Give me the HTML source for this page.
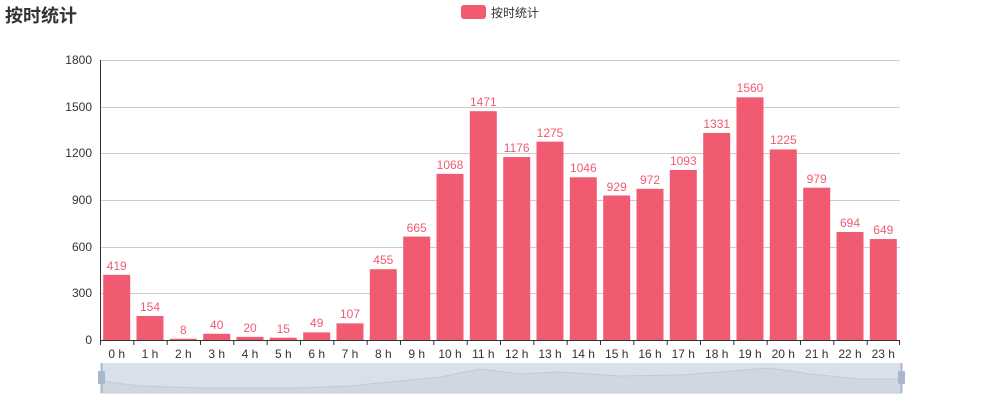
<!DOCTYPE html>
<html><head><meta charset="utf-8"><style>body{margin:0;background:#fff}svg{display:block}</style></head><body>
<svg width="1000" height="400" xmlns="http://www.w3.org/2000/svg" font-family="'Liberation Sans','Noto Sans CJK SC',sans-serif">
<text x="5" y="22" font-size="18" font-weight="bold" fill="#333">按时统计</text>
<rect x="461" y="5" width="25" height="14" rx="3" fill="#f05b72"/>
<text x="491" y="17" font-size="12" fill="#333">按时统计</text>
<g stroke="#ccc" stroke-width="1">
<line x1="100" y1="60.5" x2="900" y2="60.5"/><line x1="100" y1="107.5" x2="900" y2="107.5"/><line x1="100" y1="153.5" x2="900" y2="153.5"/><line x1="100" y1="200.5" x2="900" y2="200.5"/><line x1="100" y1="247.5" x2="900" y2="247.5"/><line x1="100" y1="293.5" x2="900" y2="293.5"/>
</g>
<g font-size="12" fill="#333" text-anchor="end">
<text x="92" y="64">1800</text><text x="92" y="111">1500</text><text x="92" y="157">1200</text><text x="92" y="204">900</text><text x="92" y="251">600</text><text x="92" y="297">300</text><text x="92" y="344">0</text>
</g>
<g transform="translate(0,340) scale(1,-0.15556)" fill="#f05b72">
<rect x="103.2" y="0" width="27" height="419"/><rect x="136.5" y="0" width="27" height="154"/><rect x="169.8" y="0" width="27" height="8"/><rect x="203.2" y="0" width="27" height="40"/><rect x="236.5" y="0" width="27" height="20"/><rect x="269.8" y="0" width="27" height="15"/><rect x="303.2" y="0" width="27" height="49"/><rect x="336.5" y="0" width="27" height="107"/><rect x="369.8" y="0" width="27" height="455"/><rect x="403.2" y="0" width="27" height="665"/><rect x="436.5" y="0" width="27" height="1068"/><rect x="469.8" y="0" width="27" height="1471"/><rect x="503.2" y="0" width="27" height="1176"/><rect x="536.5" y="0" width="27" height="1275"/><rect x="569.8" y="0" width="27" height="1046"/><rect x="603.2" y="0" width="27" height="929"/><rect x="636.5" y="0" width="27" height="972"/><rect x="669.8" y="0" width="27" height="1093"/><rect x="703.2" y="0" width="27" height="1331"/><rect x="736.5" y="0" width="27" height="1560"/><rect x="769.8" y="0" width="27" height="1225"/><rect x="803.2" y="0" width="27" height="979"/><rect x="836.5" y="0" width="27" height="694"/><rect x="869.8" y="0" width="27" height="649"/>
</g>
<g font-size="12" fill="#f05b72" text-anchor="middle">
<text x="116.7" y="270">419</text><text x="150" y="311">154</text><text x="183.3" y="334">8</text><text x="216.7" y="329">40</text><text x="250" y="332">20</text><text x="283.3" y="333">15</text><text x="316.7" y="327">49</text><text x="350" y="318">107</text><text x="383.3" y="264">455</text><text x="416.7" y="232">665</text><text x="450" y="169">1068</text><text x="483.3" y="106">1471</text><text x="516.7" y="152">1176</text><text x="550" y="137">1275</text><text x="583.3" y="172">1046</text><text x="616.7" y="191">929</text><text x="650" y="184">972</text><text x="683.3" y="165">1093</text><text x="716.7" y="128">1331</text><text x="750" y="92">1560</text><text x="783.3" y="144">1225</text><text x="816.7" y="183">979</text><text x="850" y="227">694</text><text x="883.3" y="234">649</text>
</g>
<g stroke="#333" stroke-width="1">
<line x1="100.5" y1="60" x2="100.5" y2="340"/>
<line x1="100" y1="340.5" x2="900" y2="340.5"/>
<path d="M100.5 340v5M133.8 340v5M167.2 340v5M200.5 340v5M233.8 340v5M267.2 340v5M300.5 340v5M333.8 340v5M367.2 340v5M400.5 340v5M433.8 340v5M467.2 340v5M500.5 340v5M533.8 340v5M567.2 340v5M600.5 340v5M633.8 340v5M667.2 340v5M700.5 340v5M733.8 340v5M767.2 340v5M800.5 340v5M833.8 340v5M867.2 340v5M899.5 340v5"/>
</g>
<g font-size="12" fill="#333" text-anchor="middle">
<text x="116.7" y="358">0 h</text><text x="150" y="358">1 h</text><text x="183.3" y="358">2 h</text><text x="216.7" y="358">3 h</text><text x="250" y="358">4 h</text><text x="283.3" y="358">5 h</text><text x="316.7" y="358">6 h</text><text x="350" y="358">7 h</text><text x="383.3" y="358">8 h</text><text x="416.7" y="358">9 h</text><text x="450" y="358">10 h</text><text x="483.3" y="358">11 h</text><text x="516.7" y="358">12 h</text><text x="550" y="358">13 h</text><text x="583.3" y="358">14 h</text><text x="616.7" y="358">15 h</text><text x="650" y="358">16 h</text><text x="683.3" y="358">17 h</text><text x="716.7" y="358">18 h</text><text x="750" y="358">19 h</text><text x="783.3" y="358">20 h</text><text x="816.7" y="358">21 h</text><text x="850" y="358">22 h</text><text x="883.3" y="358">23 h</text>
</g>
<rect x="101" y="363" width="800" height="30" fill="#dae0ea"/>
<path d="M101 381 L140 386 L200 388 L300 388 L350 386 L400 381 L440 377 L480 369 L520 374 L560 372 L620 376 L680 375 L720 372 L770 368 L810 374 L860 379 L901 379 L901 393 L101 393 Z" fill="#d1d7e1" stroke="#c2c9d6" stroke-width="1"/>
<line x1="101.5" y1="363" x2="101.5" y2="393" stroke="#a7b7cc" stroke-width="2"/>
<line x1="901.5" y1="363" x2="901.5" y2="393" stroke="#a7b7cc" stroke-width="2"/>
<rect x="98" y="371" width="7" height="13" rx="1" fill="#a7b7cc"/>
<rect x="898" y="371" width="7" height="13" rx="1" fill="#a7b7cc"/>
</svg>
</body></html>
